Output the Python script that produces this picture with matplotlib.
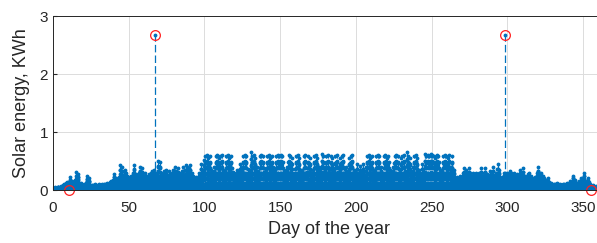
import numpy as np
import matplotlib
matplotlib.use('Agg')
import matplotlib.pyplot as plt

# daily peak energy (KWh), day 0..364
daily_peak = [
    0.04, 0.05, 0.03, 0.06, 0.05, 0.07, 0.08, 0.10, 0.12, 0.14,
    0.05, 0.22, 0.15, 0.12, 0.18, 0.31, 0.28, 0.10, 0.12, 0.09,
    0.10, 0.12, 0.24, 0.20, 0.09, 0.08, 0.09, 0.10, 0.08, 0.09,
    0.10, 0.09, 0.10, 0.11, 0.10, 0.12, 0.11, 0.13, 0.15, 0.18,
    0.27, 0.20, 0.16, 0.22, 0.43, 0.40, 0.25, 0.35, 0.30, 0.22,
    0.20, 0.25, 0.30, 0.44, 0.28, 0.22, 0.30, 0.40, 0.38, 0.25,
    0.30, 0.22, 0.25, 0.28, 0.30, 0.33, 0.35, 0.33, 0.30, 0.50,
    0.48, 0.30, 0.28, 0.32, 0.35, 0.25, 0.32, 0.28, 0.30, 0.35,
    0.40, 0.33, 0.38, 0.30, 0.28, 0.40, 0.25, 0.43, 0.40, 0.38,
    0.43, 0.30, 0.25, 0.20, 0.22, 0.18, 0.30, 0.45, 0.35, 0.52,
    0.58, 0.60, 0.55, 0.58, 0.35, 0.30, 0.40, 0.58, 0.60, 0.55,
    0.58, 0.60, 0.35, 0.32, 0.58, 0.60, 0.55, 0.58, 0.38, 0.30,
    0.28, 0.35, 0.32, 0.45, 0.40, 0.58, 0.60, 0.58, 0.36, 0.35,
    0.66, 0.58, 0.60, 0.55, 0.40, 0.32, 0.58, 0.60, 0.58, 0.38,
    0.35, 0.58, 0.60, 0.55, 0.58, 0.40, 0.35, 0.58, 0.60, 0.58,
    0.60, 0.58, 0.32, 0.35, 0.40, 0.60, 0.58, 0.55, 0.30, 0.36,
    0.58, 0.60, 0.55, 0.35, 0.32, 0.58, 0.60, 0.38, 0.58, 0.55,
    0.30, 0.35, 0.58, 0.60, 0.55, 0.40, 0.36, 0.62, 0.58, 0.40,
    0.58, 0.60, 0.35, 0.58, 0.55, 0.32, 0.58, 0.60, 0.38, 0.55,
    0.58, 0.60, 0.36, 0.40, 0.30, 0.55, 0.58, 0.60, 0.35, 0.32,
    0.45, 0.30, 0.42, 0.35, 0.45, 0.32, 0.40, 0.58, 0.60, 0.55,
    0.58, 0.35, 0.32, 0.58, 0.60, 0.58, 0.40, 0.30, 0.58, 0.60,
    0.55, 0.58, 0.35, 0.32, 0.40, 0.58, 0.60, 0.58, 0.36, 0.55,
    0.58, 0.60, 0.32, 0.65, 0.58, 0.55, 0.30, 0.40, 0.58, 0.60,
    0.55, 0.35, 0.30, 0.45, 0.35, 0.62, 0.58, 0.60, 0.58, 0.62,
    0.60, 0.58, 0.55, 0.60, 0.58, 0.35, 0.32, 0.58, 0.60, 0.58,
    0.55, 0.60, 0.40, 0.58, 0.35, 0.20, 0.22, 0.18, 0.25, 0.20,
    0.30, 0.38, 0.35, 0.25, 0.38, 0.30, 0.22, 0.30, 0.28, 0.30,
    0.25, 0.30, 0.38, 0.22, 0.30, 0.38, 0.28, 0.20, 0.32, 0.30,
    0.40, 0.25, 0.30, 0.45, 0.35, 0.20, 0.22, 0.30, 0.35, 0.30,
    0.28, 0.32, 0.30, 0.25, 0.30, 0.22, 0.28, 0.25, 0.35, 0.30,
    0.38, 0.25, 0.22, 0.28, 0.30, 0.25, 0.20, 0.18, 0.22, 0.30,
    0.40, 0.28, 0.30, 0.25, 0.20, 0.18, 0.20, 0.14, 0.12, 0.10,
    0.11, 0.10, 0.12, 0.10, 0.11, 0.09, 0.10, 0.11, 0.10, 0.12,
    0.10, 0.15, 0.12, 0.25, 0.18, 0.12, 0.10, 0.15, 0.20, 0.12,
    0.30, 0.15, 0.12, 0.20, 0.10, 0.05, 0.08, 0.06, 0.07, 0.05,
    0.05, 0.04, 0.06, 0.05, 0.04,
]

# fraction of the daily peak for each hour of the day
hour_profile = [0, 0, 0, 0, 0, 0.02, 0.08, 0.18, 0.32, 0.48, 0.64, 0.80,
                1.0, 0.82, 0.66, 0.50, 0.34, 0.20, 0.08, 0.02, 0, 0, 0, 0]

# the two spikes (max) and the two marked minima
max_days = [67.5, 298.5]
max_vals = [2.68, 2.68]
min_days = [10.5, 355.0]
min_vals = [0.0, 0.0]

blue = '#0072BD'

energy = np.outer(daily_peak, hour_profile).ravel()
day = np.arange(len(energy)) / 24.0
for d, v in zip(max_days, max_vals):
    energy[int(round(d * 24))] = v

fig = plt.figure(figsize=(5.97, 2.43), dpi=100)
ax = fig.add_axes([0.0888, 0.218, 0.926, 0.716])

markerline, stemlines, baseline = ax.stem(day, energy, linefmt='--', markerfmt='.', basefmt='-')
plt.setp(stemlines, color=blue, linewidth=0.9, linestyle=(0, (6, 2.5)))
plt.setp(markerline, color=blue, markersize=3.5)
plt.setp(baseline, color=blue, linewidth=0.6)

ax.plot(max_days, max_vals, 'o', mfc='none', mec='#FF2020', ms=7, mew=0.9)
ax.plot(min_days, min_vals, 'o', mfc='none', mec='#FF2020', ms=7, mew=0.9, clip_on=False)

ax.set_xlim(0, 365)
ax.set_ylim(0, 3)
ax.set_xticks(range(0, 351, 50))
ax.set_yticks([0, 1, 2, 3])
ax.grid(True, color='#DCDCDC', linewidth=0.7)
ax.set_axisbelow(True)
ax.tick_params(direction='in', labelsize=11, colors='#262626', length=3)
ax.tick_params(axis='x', pad=8)
for s in ax.spines.values():
    s.set_color('#262626')
    s.set_linewidth(0.7)

ax.set_xlabel('Day of the year', fontsize=13, color='#262626', family='Liberation Sans', labelpad=4)
ax.set_ylabel('Solar energy, KWh', fontsize=13, color='#262626', family='Liberation Sans', labelpad=7)
for lab in ax.get_xticklabels() + ax.get_yticklabels():
    lab.set_family('Liberation Sans')

fig.savefig('out.png', dpi=100)
